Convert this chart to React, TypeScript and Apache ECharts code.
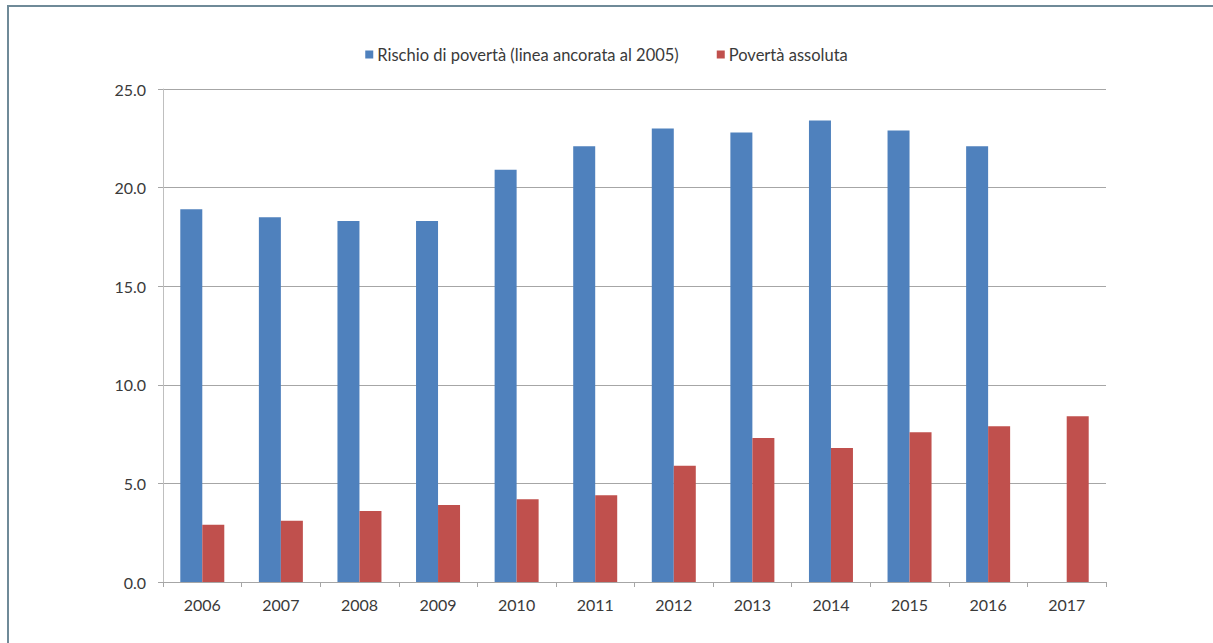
import React, { useEffect, useRef } from "react";
import * as echarts from "echarts";

const years = ["2006", "2007", "2008", "2009", "2010", "2011", "2012", "2013", "2014", "2015", "2016", "2017"];
const rischioPoverta: (number | null)[] = [18.9, 18.5, 18.3, 18.3, 20.9, 22.1, 23.0, 22.8, 23.4, 22.9, 22.1, null];
const povertaAssoluta = [2.9, 3.1, 3.6, 3.9, 4.2, 4.4, 5.9, 7.3, 6.8, 7.6, 7.9, 8.4];
const seriesNames = ["Rischio di povertà (linea ancorata al 2005)", "Povertà assoluta"];

const FONT = "Lato, 'Open Sans', sans-serif";

export default function App() {
  const ref = useRef<HTMLDivElement>(null);
  useEffect(() => {
    if (!ref.current) return;
    const chart = echarts.init(ref.current, undefined, { renderer: "svg" });
    chart.setOption({
      animation: false,
      backgroundColor: "#ffffff",
      textStyle: { fontFamily: FONT },
      graphic: [
        { type: "line", shape: { x1: 7, y1: 6, x2: 1213, y2: 6 }, style: { stroke: "#6f8a98", lineWidth: 2 } },
        { type: "line", shape: { x1: 8, y1: 5, x2: 8, y2: 643 }, style: { stroke: "#6f8a98", lineWidth: 2 } },
      ],
      legend: {
        top: 41,
        left: "center",
        itemWidth: 8,
        itemHeight: 8,
        itemGap: 38,
        icon: "rect",
        textStyle: { fontFamily: FONT, fontSize: 16.5, color: "#3a3a3a", padding: [0, 0, 0, -1] },
        data: seriesNames,
      },
      grid: { left: 163, right: 107, top: 89, bottom: 61, containLabel: false },
      xAxis: {
        type: "category",
        data: years,
        boundaryGap: true,
        axisLine: { lineStyle: { color: "#a6a6a6", width: 1 } },
        axisTick: { show: true, interval: 0, length: 5, lineStyle: { color: "#a6a6a6" } },
        axisLabel: { interval: 0, margin: 14, fontFamily: FONT, fontSize: 16, color: "#3a3a3a" },
      },
      yAxis: {
        type: "value",
        min: 0,
        max: 25,
        interval: 5,
        axisLine: { show: true, lineStyle: { color: "#bfbfbf", width: 1 } },
        axisTick: { show: true, length: 5, lineStyle: { color: "#a6a6a6" } },
        axisLabel: {
          margin: 17,
          fontFamily: FONT,
          fontSize: 16,
          color: "#3a3a3a",
          formatter: (v: number) => v.toFixed(1),
        },
        splitLine: { show: true, lineStyle: { color: "#a6a6a6", width: 1 } },
      },
      series: [
        {
          name: seriesNames[0],
          type: "bar",
          data: rischioPoverta,
          barWidth: 22,
          barGap: "0%",
          itemStyle: { color: "#4f81bd" },
        },
        {
          name: seriesNames[1],
          type: "bar",
          data: povertaAssoluta,
          barWidth: 22,
          barGap: "0%",
          itemStyle: { color: "#c0504d" },
        },
      ],
    });
    return () => chart.dispose();
  }, []);
  return (
    <div
      ref={ref}
      style={{ position: "fixed", left: 0, top: 0, width: 1213, height: 643, background: "#fff" }}
    />
  );
}
